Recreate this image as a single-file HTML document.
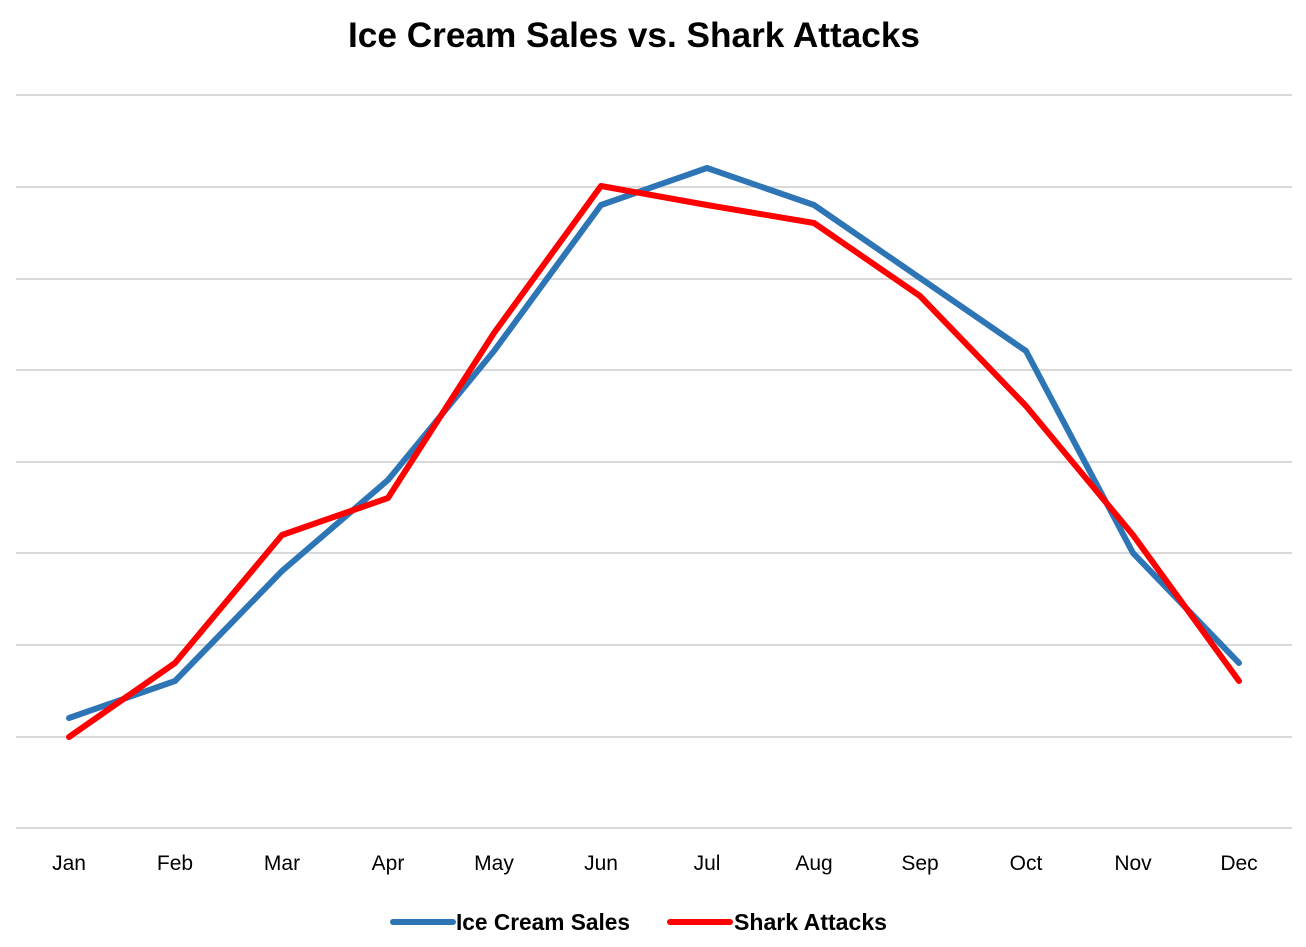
<!DOCTYPE html>
<html><head><meta charset="utf-8"><style>
html,body{margin:0;padding:0;background:#fff;}
svg{display:block;}
</style></head><body>
<svg width="1306" height="947" viewBox="0 0 1306 947" xmlns="http://www.w3.org/2000/svg" font-family="Liberation Sans, sans-serif">
<rect width="1306" height="947" fill="#fff"/>
<text x="634" y="47" text-anchor="middle" font-size="35" font-weight="bold" fill="#000" textLength="572" lengthAdjust="spacingAndGlyphs">Ice Cream Sales vs. Shark Attacks</text>
<g stroke="#d9d9d9" stroke-width="2">
<line x1="16" x2="1292" y1="95" y2="95"/>
<line x1="16" x2="1292" y1="187" y2="187"/>
<line x1="16" x2="1292" y1="279" y2="279"/>
<line x1="16" x2="1292" y1="370" y2="370"/>
<line x1="16" x2="1292" y1="462" y2="462"/>
<line x1="16" x2="1292" y1="553" y2="553"/>
<line x1="16" x2="1292" y1="645" y2="645"/>
<line x1="16" x2="1292" y1="737" y2="737"/>
<line x1="16" x2="1292" y1="828" y2="828"/>
</g>
<polyline fill="none" stroke="#2e75b6" stroke-width="6" stroke-linejoin="round" stroke-linecap="round" points="69,718 175,681 282,571 388,480 494,351 601,205 707,168 814,205 920,278 1026,351 1133,553 1239,663"/>
<polyline fill="none" stroke="#ff0000" stroke-width="6" stroke-linejoin="round" stroke-linecap="round" points="69,737 175,663 282,535 388,498 494,333 601,186 707,205 814,223 920,296 1026,406 1133,535 1239,681"/>
<g font-size="21" fill="#000" text-anchor="middle">
<text x="69" y="870">Jan</text><text x="175" y="870">Feb</text><text x="282" y="870">Mar</text>
<text x="388" y="870">Apr</text><text x="494" y="870">May</text><text x="601" y="870">Jun</text>
<text x="707" y="870">Jul</text><text x="814" y="870">Aug</text><text x="920" y="870">Sep</text>
<text x="1026" y="870">Oct</text><text x="1133" y="870">Nov</text><text x="1239" y="870">Dec</text>
</g>
<line x1="393" x2="453" y1="922" y2="922" stroke="#2e75b6" stroke-width="6" stroke-linecap="round"/>
<text x="456" y="930" font-size="23" font-weight="bold" textLength="174" lengthAdjust="spacingAndGlyphs">Ice Cream Sales</text>
<line x1="670" x2="730" y1="922" y2="922" stroke="#ff0000" stroke-width="6" stroke-linecap="round"/>
<text x="734" y="930" font-size="23" font-weight="bold" textLength="153" lengthAdjust="spacingAndGlyphs">Shark Attacks</text>
</svg>
</body></html>
